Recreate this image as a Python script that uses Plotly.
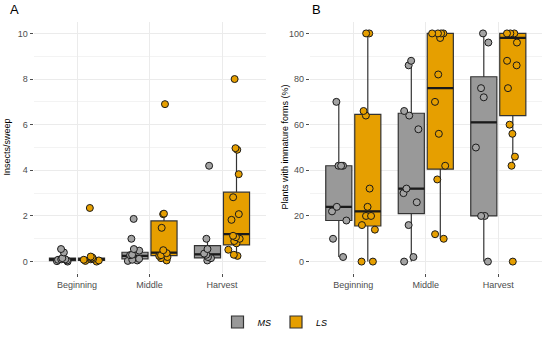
import plotly.graph_objects as go

periods = ["Beginning", "Middle", "Harvest"]
systems = ["MS", "LS"]

# Panel A: Insects/sweep - jittered sample points
a_ms_pts = [
    [0.55, 0.4, 0.15, 0.1, 0.1, 0.08, 0.05, 0.02, 0.0],
    [1.87, 1.0, 0.55, 0.48, 0.3, 0.28, 0.12, 0.08, 0.05, 0.03],
    [4.2, 1.0, 0.55, 0.35, 0.3, 0.2, 0.15, 0.05],
]
a_ls_pts = [
    [2.35, 0.22, 0.18, 0.15, 0.12, 0.1, 0.08, 0.05, 0.03, 0.0],
    [6.9, 2.1, 2.08, 1.48, 0.5, 0.37, 0.28, 0.25, 0.2, 0.15, 0.05],
    [8.0, 4.97, 4.9, 3.83, 2.82, 2.08, 1.83, 1.13, 1.07, 1.0, 0.9, 0.8, 0.52, 0.3, 0.25],
]
# Panel A box statistics
a_ms_q1 = [0.04, 0.12, 0.16]
a_ms_med = [0.1, 0.25, 0.32]
a_ms_q3 = [0.15, 0.41, 0.7]
a_ms_lo = [0.0, 0.0, 0.03]
a_ms_hi = [0.2, 0.57, 1.0]
a_ls_q1 = [0.05, 0.26, 0.73]
a_ls_med = [0.1, 0.39, 1.2]
a_ls_q3 = [0.15, 1.78, 3.04]
a_ls_lo = [0.0, 0.05, 0.22]
a_ls_hi = [0.22, 2.08, 4.97]

# Panel B: Plants with immature forms (%) - sample points
b_ms_pts = [
    [70, 42, 42, 42, 24, 22, 18, 10, 2],
    [88, 86, 66, 64, 58, 32, 30, 26, 16, 2, 0],
    [100, 96, 76, 72, 50, 20, 20, 0],
]
b_ls_pts = [
    [100, 100, 66, 64, 32, 24, 20, 20, 16, 14, 0, 0],
    [100, 100, 100, 100, 98, 82, 70, 56, 42, 36, 12, 10],
    [100, 100, 100, 96, 88, 86, 76, 60, 56, 46, 42, 0],
]
# Panel B box statistics
b_ms_q1 = [18, 21, 20]
b_ms_med = [24, 32, 61]
b_ms_q3 = [42, 65, 81]
b_ms_lo = [2, 0, 0]
b_ms_hi = [70, 88, 100]
b_ls_q1 = [15.6, 40.5, 64]
b_ls_med = [22, 76, 98]
b_ls_q3 = [64.5, 100, 100]
b_ls_lo = [0, 10, 42]
b_ls_hi = [100, 100, 100]

colors = {"MS": "#999999", "LS": "#E69F00"}
pt_colors = {"MS": "#A3A3A3", "LS": "#E69F00"}

fig = go.Figure()

def add_box(name, pts, q1, med, q3, lo, hi, xa, ya, panel, showlegend):
    fig.add_trace(go.Box(
        name="<i>%s</i>" % name,
        legendgroup=name,
        showlegend=showlegend,
        alignmentgroup=panel,
        offsetgroup=name,
        x=periods,
        q1=q1, median=med, q3=q3, lowerfence=lo, upperfence=hi,
        boxpoints=False,
        whiskerwidth=0,
        fillcolor=colors[name],
        line=dict(color="#333333", width=1.2),
        xaxis=xa, yaxis=ya,
        hoverinfo="skip",
    ))
    # thicker median bar (ggplot style), drawn as a flat box at the median
    fig.add_trace(go.Box(
        name="<i>%s</i>" % name,
        legendgroup=name,
        showlegend=False,
        alignmentgroup=panel,
        offsetgroup=name,
        x=periods,
        q1=med, median=med, q3=med, lowerfence=med, upperfence=med,
        boxpoints=False,
        whiskerwidth=0,
        fillcolor="rgba(0,0,0,0)",
        line=dict(color="#1a1a1a", width=2.2),
        xaxis=xa, yaxis=ya,
        hoverinfo="skip",
    ))
    # jittered sample points
    fig.add_trace(go.Box(
        name="<i>%s</i>" % name,
        legendgroup=name,
        showlegend=False,
        alignmentgroup=panel,
        offsetgroup=name,
        x=periods,
        y=pts,
        q1=q1, median=med, q3=q3, lowerfence=lo, upperfence=hi,
        boxpoints="all", jitter=0.75, pointpos=0,
        whiskerwidth=0,
        fillcolor="rgba(0,0,0,0)",
        line=dict(color="rgba(0,0,0,0)", width=0),
        marker=dict(color=pt_colors[name], size=7, opacity=1,
                    line=dict(color="#1a1a1a", width=1)),
        xaxis=xa, yaxis=ya,
        hoverinfo="skip",
    ))

add_box("MS", a_ms_pts, a_ms_q1, a_ms_med, a_ms_q3, a_ms_lo, a_ms_hi, "x", "y", "A", True)
add_box("LS", a_ls_pts, a_ls_q1, a_ls_med, a_ls_q3, a_ls_lo, a_ls_hi, "x", "y", "A", True)
add_box("MS", b_ms_pts, b_ms_q1, b_ms_med, b_ms_q3, b_ms_lo, b_ms_hi, "x2", "y2", "B", False)
add_box("LS", b_ls_pts, b_ls_q1, b_ls_med, b_ls_q3, b_ls_lo, b_ls_hi, "x2", "y2", "B", False)

W, H = 550, 338
top_px, bot_px = 22, 273
ydom = [(H - bot_px) / H, (H - top_px) / H]

grid = "#EBEBEB"
minor_grid = "#F3F3F3"
tickfont = dict(family="Liberation Sans, Arial, sans-serif", size=9, color="#4D4D4D")

xcommon = dict(type="category", range=[-0.6, 2.6], showgrid=True, gridcolor=grid,
               gridwidth=1, zeroline=False, showline=False, ticks="outside",
               ticklen=3, tickcolor="#4D4D4D", tickfont=tickfont,
               categoryorder="array", categoryarray=periods)
ycommon = dict(showgrid=True, gridcolor=grid, gridwidth=1, zeroline=False,
               showline=False, ticks="outside", ticklen=3, tickcolor="#4D4D4D",
               tickfont=tickfont)

fig.update_layout(
    width=W, height=H,
    margin=dict(l=0, r=0, t=0, b=0),
    paper_bgcolor="white", plot_bgcolor="white",
    boxmode="group", boxgap=0.2, boxgroupgap=0.1,
    font=dict(family="Liberation Sans, Arial, sans-serif", color="black"),
    xaxis=dict(domain=[33.5 / W, 265.5 / W], anchor="y", **xcommon),
    xaxis2=dict(domain=[309.8 / W, 541.8 / W], anchor="y2", **xcommon),
    yaxis=dict(domain=ydom, anchor="x", range=[-0.5, 10.5], tickvals=[0, 2, 4, 6, 8, 10],
               minor=dict(showgrid=True, tickvals=[1, 3, 5, 7, 9], gridcolor=minor_grid, gridwidth=1),
               **ycommon),
    yaxis2=dict(domain=ydom, anchor="x2", range=[-5, 105], tickvals=[0, 20, 40, 60, 80, 100],
                minor=dict(showgrid=True, tickvals=[10, 30, 50, 70, 90], gridcolor=minor_grid, gridwidth=1),
                **ycommon),
    legend=dict(orientation="h", x=0.5, xanchor="center", y=(H - 322) / H, yanchor="middle",
                font=dict(size=9, color="black"), itemwidth=30, tracegroupgap=0),
    annotations=[
        dict(text="A", x=8 / W, y=(H - 9) / H, xref="paper", yref="paper",
             xanchor="left", yanchor="middle", showarrow=False, font=dict(size=13)),
        dict(text="B", x=310 / W, y=(H - 9) / H, xref="paper", yref="paper",
             xanchor="left", yanchor="middle", showarrow=False, font=dict(size=13)),
        dict(text="Insects/sweep", x=7 / W, y=(H - 147.5) / H, xref="paper", yref="paper",
             textangle=-90, xanchor="center", yanchor="middle", showarrow=False,
             font=dict(size=9)),
        dict(text="Plants with immature forms (%)", x=285 / W, y=(H - 147.5) / H,
             xref="paper", yref="paper", textangle=-90, xanchor="center",
             yanchor="middle", showarrow=False, font=dict(size=9)),
    ],
)

fig.write_html("out.html", config={"displayModeBar": False})

# remove the default page margin so the figure sits at the window origin
with open("out.html", "r", encoding="utf-8") as f:
    html = f.read()
html = html.replace("<head>", "<head><style>html,body{margin:0;padding:0;overflow:hidden;}</style>", 1)
with open("out.html", "w", encoding="utf-8") as f:
    f.write(html)
